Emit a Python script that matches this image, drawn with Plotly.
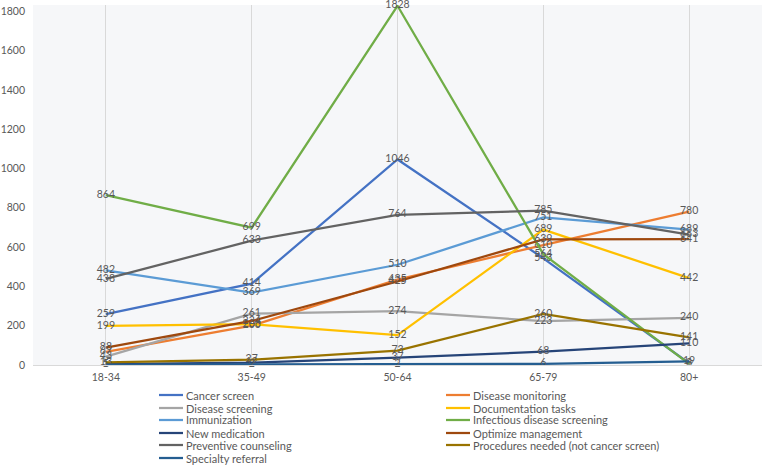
import plotly.graph_objects as go

categories = ["18-34", "35-49", "50-64", "65-79", "80+"]

series_names = [
    "Cancer screen", "Disease monitoring", "Disease screening", "Documentation tasks",
    "Immunization", "Infectious disease screening", "New medication", "Optimize management",
    "Preventive counseling", "Procedures needed (not cancer screen)", "Specialty referral",
]

cancer_screen = [259, 414, 1046, 543, 9]
disease_monitoring = [67, 200, 435, 610, 780]
disease_screening = [43, 261, 274, 223, 240]
documentation_tasks = [199, 208, 152, 689, 442]
immunization = [482, 369, 510, 751, 689]
infectious_disease_screening = [864, 699, 1828, 564, 6]
new_medication = [5, 12, 37, 68, 110]
optimize_management = [88, 224, 425, 639, 641]
preventive_counseling = [438, 633, 764, 785, 663]
procedures_needed = [13, 27, 73, 260, 141]
specialty_referral = [1, 2, 2, 6, 19]

series_values = [
    cancer_screen, disease_monitoring, disease_screening, documentation_tasks,
    immunization, infectious_disease_screening, new_medication, optimize_management,
    preventive_counseling, procedures_needed, specialty_referral,
]

colors = ["#4472C4", "#ED7D31", "#A5A5A5", "#FFC000", "#5B9BD5", "#70AD47",
          "#264478", "#9E480E", "#636363", "#997300", "#255E91"]

y_ticks = [0, 200, 400, 600, 800, 1000, 1200, 1400, 1600, 1800]

FONT = "Lato, 'Open Sans', sans-serif"
GRAY = "#595959"
W, H = 763, 465
ML, MR, MT, MB = 33, 1, 5, 100
PW, PH = W - ML - MR, H - MT - MB


def px_to_paper(px, py):
    return (px - ML) / PW, (H - MB - py) / PH


fig = go.Figure()
for name, vals, col in zip(series_names, series_values, colors):
    fig.add_trace(go.Scatter(
        x=categories, y=vals, name=name, mode="lines+text",
        line=dict(color=col, width=2.25),
        text=[str(v) for v in vals], textposition="middle center",
        textfont=dict(family=FONT, size=10.5, color=GRAY),
        cliponaxis=False, showlegend=False,
    ))

# two-column legend below the plot (library legend rows are too tall here)
shapes, annotations = [], []
col_x = [159, 446]
row_y = [395, 408, 420, 433, 445, 458]
for i, (name, col) in enumerate(zip(series_names, colors)):
    cx = col_x[i % 2]
    ry = row_y[i // 2]
    x0, y0 = px_to_paper(cx, ry)
    x1, _ = px_to_paper(cx + 24, ry)
    xt, _ = px_to_paper(cx + 25, ry)
    shapes.append(dict(type="line", xref="paper", yref="paper", x0=x0, x1=x1, y0=y0, y1=y0,
                       line=dict(color=col, width=2.25)))
    annotations.append(dict(xref="paper", yref="paper", x=xt, y=y0, xanchor="left",
                            yanchor="middle", text=name, showarrow=False,
                            font=dict(family=FONT, size=11, color=GRAY)))

fig.update_layout(
    width=W, height=H,
    margin=dict(l=ML, r=MR, t=MT, b=MB, autoexpand=False),
    paper_bgcolor="white",
    plot_bgcolor="#f6f7f9",
    font=dict(family=FONT, size=10.5, color=GRAY),
    showlegend=False,
    shapes=shapes, annotations=annotations,
    xaxis=dict(
        range=[-0.5, 4.5], showgrid=True, gridcolor="#d9d9d9", gridwidth=1,
        showline=True, linecolor="#d9d9d9", linewidth=1, ticks="",
        tickfont=dict(family=FONT, size=10.5, color=GRAY), fixedrange=True,
        ticklabelstandoff=2, automargin=False,
    ),
    yaxis=dict(
        range=[0, 1832], tickvals=y_ticks, showgrid=False, zeroline=False,
        showline=False, ticks="", tickfont=dict(family=FONT, size=10.5, color=GRAY),
        fixedrange=True, ticklabelstandoff=7, automargin=False,
    ),
)

fig.write_html("out.html", config={"displayModeBar": False},
               post_script="document.body.style.margin='0';")
